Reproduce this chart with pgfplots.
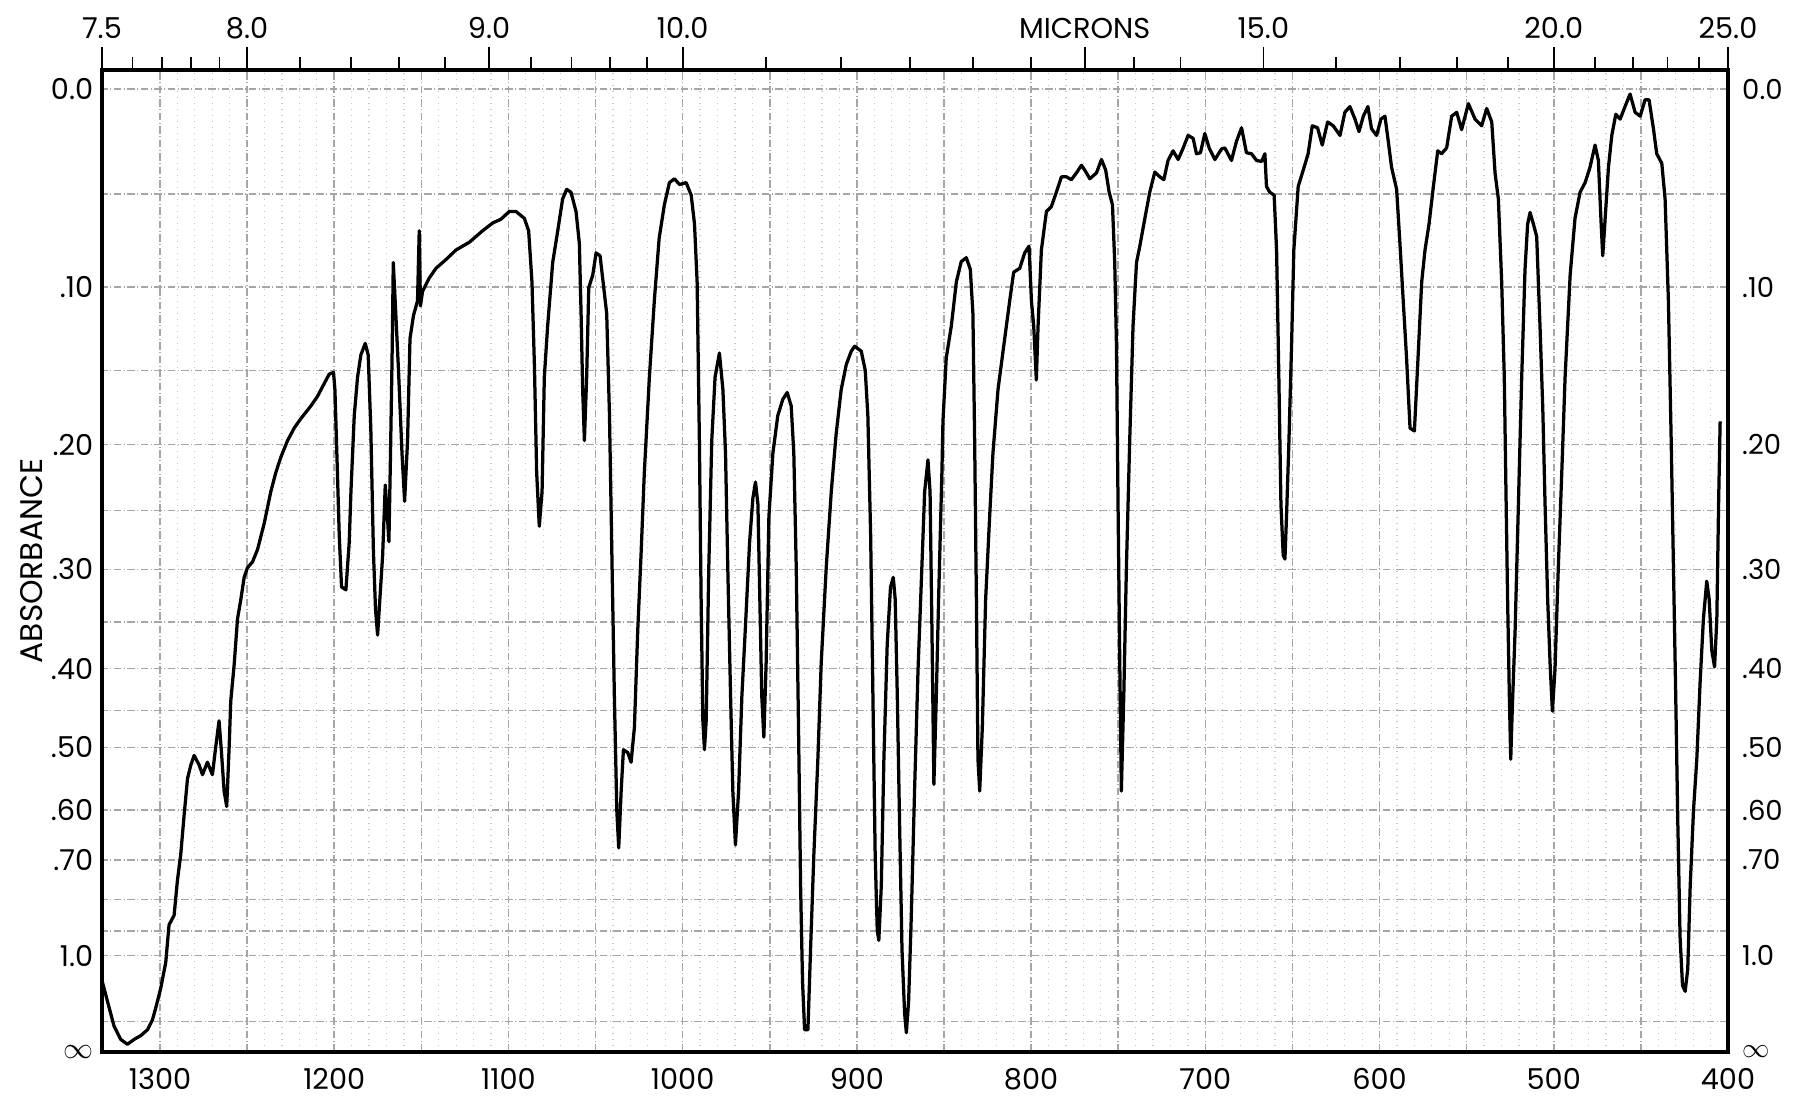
\documentclass[border=0pt]{standalone}
\usepackage{fontspec}
\setmainfont{Poppins}
\usepackage{pgfplots}
\pgfplotsset{compat=1.18}
\begin{document}
\begin{tikzpicture}
\pgfplotsset{
  ir/.style={scale only axis, width=650.4pt, height=392.8pt, x dir=reverse,
    xmin=400, xmax=1333.3, ymin=0, ymax=1.02, at={(0,0)}, anchor=south west,
    ytick={0,0.03162,0.1,0.12589,0.15849,0.19953,0.25119,0.31623,0.35481,0.39811,0.44668,0.50119,0.56234,0.63096,0.70795,0.79433,0.89125,1},
    yticklabels={$\infty$,{},1.0,{},{},.70,.60,.50,{},.40,{},.30,{},.20,{},.10,{},0.0},
    ticklabel style={font=\fontsize{11.5}{12}\selectfont},
  },
}
\begin{axis}[ir, name=main,
  axis line style={line width=1.3pt},
  xtick={400,450,...,1300},
  xticklabels={400,{},500,{},600,{},700,{},800,{},900,{},1000,{},1100,{},1200,{},1300},
  minor x tick num=4,
  xtick pos=bottom, ytick pos=left, major tick length=0pt, minor tick length=0pt,
  grid=both,
  major grid style={gray!70, densely dashdotted, line width=0.6pt},
  minor grid style={gray!45, dotted, line width=0.5pt},
  xticklabel style={yshift=-3pt},
]
\addplot[black, line width=1.3pt, line join=round] coordinates {
(1333.1,.073)(1330.2,.053)(1326.4,.027)(1322.5,.013)(1318.7,.008)(1314.9,.013)(1311.1,.017)(1307.2,.023)
(1304.4,.033)(1302.4,.046)(1299.6,.066)(1296.7,.093)(1294.8,.132)(1291.9,.142)(1290.0,.178)(1288.1,.205)
(1286.2,.245)(1284.2,.284)(1282.3,.298)(1280.4,.308)(1277.5,.298)(1275.6,.288)(1272.8,.301)(1269.9,.288)
(1268.0,.317)(1266.1,.344)(1264.7,.311)(1263.2,.271)(1261.7,.255)(1260.3,.317)(1259.4,.364)(1257.4,.403)
(1255.5,.450)(1253.6,.470)(1251.7,.493)(1249.8,.503)(1246.9,.509)(1244.0,.522)(1240.2,.549)(1236.4,.582)
(1233.5,.602)(1230.6,.618)(1226.8,.635)(1223.0,.648)(1219.1,.658)(1213.4,.671)(1209.6,.681)(1206.7,.691)
(1202.9,.704)(1200.4,.706)(1199.6,.688)(1198.7,.635)(1197.1,.536)(1195.8,.483)(1193.3,.480)(1191.4,.529)
(1190.4,.582)(1188.5,.661)(1186.6,.701)(1184.7,.724)(1182.2,.736)(1180.5,.724)(1179.0,.648)(1177.5,.52)
(1176.3,.46)(1175.1,.433)(1172.2,.516)(1170.7,.589)(1169.6,.56)(1168.6,.53)(1167.7,.62)(1166.8,.72)
(1166.1,.82)(1165.0,.78)(1163.1,.708)(1161.1,.622)(1159.6,.572)(1157.9,.635)(1156.5,.741)(1154.5,.765)
(1152.2,.78)(1151.2,.853)(1150.5,.775)(1149.3,.790)(1145.4,.804)(1141.6,.814)(1135.9,.823)(1130.1,.833)
(1122.5,.841)(1114.8,.853)(1109.1,.861)(1104.3,.865)(1099.5,.873)(1095.7,.873)(1090.9,.866)(1088.4,.853)
(1086.5,.800)(1085.1,.714)(1083.8,.602)(1082.3,.546)(1080.7,.582)(1079.4,.701)(1077.5,.754)(1074.6,.820)
(1071.7,.853)(1068.9,.886)(1066.6,.896)(1064.1,.893)(1061.2,.873)(1059.3,.840)(1058.3,.767)(1057.4,.688)
(1056.4,.635)(1055.1,.701)(1053.9,.794)(1051.6,.807)(1049.7,.830)(1047.4,.827)(1045.3,.794)(1043.6,.767)
(1042.0,.661)(1040.5,.503)(1039.2,.370)(1037.8,.251)(1036.7,.212)(1035.3,.271)(1034.0,.314)(1031.5,.311)
(1029.6,.301)(1027.7,.337)(1025.8,.437)(1023.9,.516)(1022.0,.602)(1019.1,.701)(1016.2,.782)(1013.5,.845)
(1010.5,.880)(1007.6,.903)(1004.7,.907)(1001.8,.901)(998.0,.903)(995.1,.890)(993.2,.860)(991.7,.800)
(990.4,.635)(989.4,.470)(988.4,.344)(987.5,.314)(986.5,.344)(985.0,.503)(983.3,.635)(981.4,.701)
(978.9,.726)(976.9,.688)(975.4,.622)(974.1,.503)(972.5,.370)(971.2,.271)(969.7,.215)(967.9,.271)
(966.0,.370)(964.1,.437)(961.6,.529)(959.7,.575)(958.2,.592)(956.8,.569)(955.7,.470)(954.6,.370)
(953.4,.327)(952.1,.403)(950.5,.556)(948.2,.622)(945.4,.661)(942.5,.678)(940.0,.685)(937.7,.671)
(936.2,.622)(934.8,.503)(933.5,.337)(932.3,.172)(931.2,.073)(930.0,.023)(928.1,.023)(926.6,.106)
(924.7,.205)(922.4,.304)(920.5,.403)(917.6,.503)(914.7,.582)(911.9,.642)(909.0,.688)(906.1,.714)
(903.2,.728)(901.3,.733)(897.5,.728)(895.2,.708)(893.7,.661)(892.1,.537)(890.8,.370)(889.5,.205)
(888.3,.126)(887.4,.116)(886.0,.172)(884.5,.304)(882.6,.423)(880.7,.483)(879.1,.493)(878.0,.470)
(876.8,.370)(875.5,.238)(874.1,.106)(872.6,.040)(871.6,.020)(870.3,.053)(868.8,.139)(866.9,.271)
(864.9,.397)(863.0,.489)(861.1,.582)(859.2,.615)(858.0,.582)(856.9,.437)(855.8,.278)(854.4,.370)
(853.1,.470)(851.2,.602)(850.6,.655)(848.7,.721)(845.8,.754)(842.9,.800)(840.1,.821)(837.2,.825)
(834.9,.813)(833.4,.767)(832.4,.635)(831.4,.470)(830.5,.304)(829.5,.271)(828.0,.337)(826.1,.470)
(823.8,.556)(821.9,.622)(819.0,.688)(816.1,.728)(812.3,.780)(810.0,.810)(806.5,.814)(803.7,.830)
(801.2,.837)(799.8,.780)(798.5,.754)(797.0,.698)(796.0,.754)(794.1,.833)(791.2,.873)(788.4,.878)
(785.5,.893)(782.6,.909)(779.7,.909)(776.9,.906)(774.0,.913)(771.1,.921)(769.2,.916)(766.3,.907)
(762.5,.913)(759.6,.927)(757.2,.916)(755.2,.893)(753.3,.880)(752.0,.820)(751.0,.734)(750.1,.569)
(749.1,.403)(748.2,.271)(746.8,.370)(745.3,.503)(743.4,.635)(741.5,.754)(739.5,.820)(737.6,.837)
(734.7,.866)(731.9,.893)(729.0,.914)(726.1,.909)(723.8,.906)(721.4,.926)(718.5,.936)(715.6,.927)
(712.7,.939)(709.9,.952)(707.0,.949)(705.1,.933)(702.8,.934)(700.3,.954)(697.8,.939)(694.5,.927)
(690.7,.938)(688.8,.939)(685.0,.926)(682.1,.946)(679.2,.960)(676.4,.934)(673.5,.933)(670.6,.926)
(667.7,.925)(665.8,.933)(664.9,.899)(663.0,.893)(660.5,.890)(659.1,.833)(657.8,.701)(656.6,.569)
(655.3,.516)(654.3,.512)(653.4,.556)(652.0,.635)(650.5,.734)(649.2,.833)(646.7,.899)(643.8,.916)
(641.0,.933)(638.6,.962)(635.6,.960)(632.9,.942)(629.8,.966)(626.6,.962)(622.7,.952)(619.9,.976)
(617.0,.982)(614.1,.969)(611.8,.956)(609.3,.972)(606.7,.982)(604.6,.959)(601.7,.952)(599.2,.969)
(596.9,.972)(595.0,.946)(593.1,.919)(590.2,.896)(588.3,.840)(586.4,.780)(584.5,.721)(582.5,.648)
(580.0,.645)(578.1,.714)(575.8,.800)(573.9,.833)(571.6,.860)(569.1,.899)(566.6,.936)(564.4,.933)
(561.5,.939)(558.6,.972)(555.7,.976)(552.9,.958)(549.0,.985)(545.2,.969)(541.4,.962)(538.5,.980)
(535.6,.966)(533.7,.913)(531.8,.886)(529.9,.800)(528.4,.701)(527.6,.602)(526.5,.470)(525.5,.370)
(524.7,.304)(523.8,.357)(522.2,.437)(520.3,.569)(518.4,.701)(516.5,.813)(515.0,.860)(513.6,.872)
(511.7,.860)(509.8,.847)(507.9,.754)(506.3,.668)(505.0,.569)(503.5,.470)(502.1,.403)(500.8,.354)
(499.3,.397)(497.4,.503)(495.4,.602)(493.5,.701)(490.6,.807)(487.8,.866)(484.9,.893)(482.0,.903)
(479.2,.919)(476.3,.942)(474.4,.926)(472.8,.860)(471.9,.827)(470.5,.866)(468.6,.919)(466.7,.952)
(464.4,.974)(461.9,.969)(459.1,.982)(456.2,.995)(453.3,.976)(450.4,.972)(447.6,.989)(445.3,.989)
(442.8,.959)(440.9,.933)(438.0,.923)(436.1,.886)(434.2,.780)(432.6,.635)(431.3,.503)(430.0,.370)
(428.8,.238)(427.5,.119)(426.1,.069)(424.6,.063)(423.1,.086)(421.7,.172)(419.8,.251)(417.9,.304)
(416.0,.384)(414.1,.450)(412.2,.489)(410.8,.470)(409.3,.417)(407.7,.400)(406.4,.450)(405.4,.569)
(404.5,.655)
};
\end{axis}
\begin{axis}[ir, axis x line*=top, axis y line*=right,
  axis line style={line width=1.3pt},
  xtick={1333.33,1250,1111.11,1000,769.23,666.67,500,400},
  xticklabels={7.5,8.0,9.0,10.0,MICRONS,15.0,20.0,25.0},
  minor xtick={1315.79,1298.70,1282.05,1265.82,1219.51,1190.48,1162.79,1136.36,1086.96,1063.83,1041.67,1020.41,952.38,909.09,869.57,833.33,800,740.74,714.29,625,588.24,555.56,526.32,476.19,454.55,434.78,416.67},
  tick align=outside, major tick length=9pt, minor tick length=5pt,
  xtick style={black, line width=0.7pt}, ytick style={draw=none},
  yticklabel style={font=\fontsize{11}{12}\selectfont, inner xsep=0.5pt, xshift=-4pt},
]
\end{axis}
\node[rotate=90, font=\fontsize{12.5}{13}\selectfont] at ([xshift=-28pt]main.west) {ABSORBANCE};
\pgfresetboundingbox
\useasboundingbox ([shift={(-40.8pt,-19.2pt)}]main.south west) rectangle ([shift={(26.8pt,28pt)}]main.north east);
\end{tikzpicture}
\end{document}
